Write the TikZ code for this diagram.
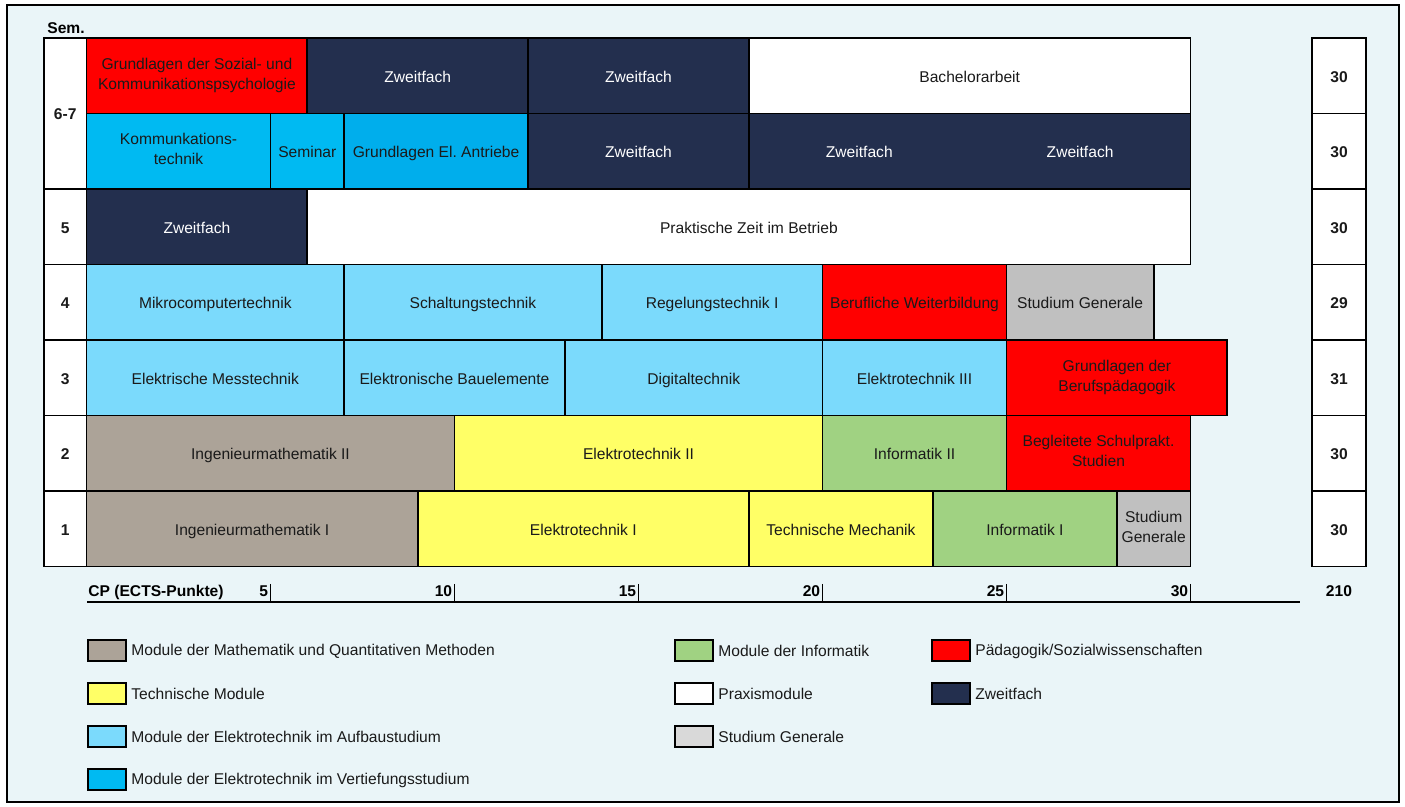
\documentclass[tikz,border=0pt]{standalone}
\usepackage{fontspec}
\setmainfont{Liberation Sans}
\usetikzlibrary{positioning}
\definecolor{bg}{HTML}{EAF5F8}
\definecolor{rot}{HTML}{FF0000}
\definecolor{zweit}{HTML}{232F4E}
\definecolor{vtief}{HTML}{00BAF2}
\definecolor{vtiefb}{HTML}{00AEEC}
\definecolor{aufbau}{HTML}{7BDAFC}
\definecolor{mathe}{HTML}{ACA398}
\definecolor{gelb}{HTML}{FFFF66}
\definecolor{info}{HTML}{A0D282}
\definecolor{stgen}{HTML}{C0C0C0}
\definecolor{stgenlg}{HTML}{D9D9D9}
\definecolor{modtext}{HTML}{1A1A1A}
\newcommand{\celltop}{\rule{0pt}{8.6pt}}
\newcommand{\cellbot}{\rule[-2.2pt]{0pt}{2.2pt}}
\frenchspacing
\begin{document}
\begin{tikzpicture}[x=0.5pt, y=-0.5pt,
font=\fontsize{7.8}{10}\selectfont,
% common options for the module blocks:
cell/.style = {draw, line width=0.9pt, anchor=north west, minimum height=37.75pt,
            inner sep=1pt, outer sep=0pt, align=center, text=modtext,
            execute at begin node=\celltop, execute at end node=\cellbot},
cp/.style = {minimum width=#1*18.4pt},
% semester and points columns:
semcell/.style = {cell, fill=white, minimum width=21.25pt, font=\fontsize{7.8}{10}\selectfont\bfseries},
ptcell/.style = {cell, fill=white, minimum width=27pt, font=\fontsize{7.8}{10}\selectfont\bfseries},
zw/.style = {cell, fill=zweit, text=white},
axlabel/.style = {anchor=base east, inner sep=0, font=\fontsize{7.8}{10}\selectfont\bfseries},
% legend:
swatch/.style = {draw, line width=1pt, minimum width=19pt, minimum height=10.5pt,
            inner sep=0, anchor=west},
legtext/.style = {inner sep=0, text=modtext}]
\useasboundingbox (0,0) rectangle (1405,807);
\draw[fill=bg, line width=0.7pt] (7,5) rectangle (1399,802);
\node[anchor=base west, inner sep=0, font=\fontsize{7.8}{10}\selectfont\bfseries] (sem) at (47,34) {Sem.};
% semester column
\node[semcell, minimum height=75.5pt] (s67) at (44,38) {6-7};
\node[semcell] (s5) at (44,189) {5};
\node[semcell] (s4) at (44,264.5) {4};
\node[semcell] (s3) at (44,340) {3};
\node[semcell] (s2) at (44,415.5) {2};
\node[semcell] (s1) at (44,491) {1};
% semester 6-7
\node[cell, cp=6, fill=rot] (a1) at (86.5,38) {Grundlagen der Sozial- und\\Kommunikationspsychologie};
\node[zw, cp=6] (a2) at (307.3,38) {Zweitfach};
\node[zw, cp=6] (a3) at (528.1,38) {Zweitfach};
\node[cell, cp=12, fill=white] (a4) at (748.9,38) {Bachelorarbeit};
\node[cell, cp=5, fill=vtief] (b1) at (86.5,113.5) {Kommunkations-\\technik};
\node[cell, cp=2, fill=vtief] (b2) at (270.5,113.5) {Seminar};
\node[cell, cp=5, fill=vtiefb] (b3) at (344.1,113.5) {Grundlagen El. Antriebe};
\node[zw, cp=6] (b4) at (528.1,113.5) {Zweitfach};
\node[zw, cp=12] (b5) at (748.9,113.5) {};
\node[text=white] (b5l) at (859.3,152) {Zweitfach};
\node[text=white] (b5r) at (1080.1,152) {Zweitfach};
% semester 5
\node[zw, cp=6] (c1) at (86.5,189) {Zweitfach};
\node[cell, cp=24, fill=white] (c2) at (307.3,189) {Praktische Zeit im Betrieb};
% semester 4
\node[cell, cp=7, fill=aufbau] (d1) at (86.5,264.5) {Mikrocomputertechnik};
\node[cell, cp=7, fill=aufbau] (d2) at (344.1,264.5) {Schaltungstechnik};
\node[cell, cp=6, fill=aufbau] (d3) at (601.7,264.5) {Regelungstechnik I};
\node[cell, cp=5, fill=rot] (d4) at (822.5,264.5) {Berufliche Weiterbildung};
\node[cell, cp=4, fill=stgen] (d5) at (1006.5,264.5) {Studium Generale};
% semester 3
\node[cell, cp=7, fill=aufbau] (e1) at (86.5,340) {Elektrische Messtechnik};
\node[cell, cp=6, fill=aufbau] (e2) at (344.1,340) {Elektronische Bauelemente};
\node[cell, cp=7, fill=aufbau] (e3) at (564.9,340) {Digitaltechnik};
\node[cell, cp=5, fill=aufbau] (e4) at (822.5,340) {Elektrotechnik III};
\node[cell, cp=6, fill=rot] (e5) at (1006.5,340) {Grundlagen der\\Berufspädagogik};
% semester 2
\node[cell, cp=10, fill=mathe] (f1) at (86.5,415.5) {Ingenieurmathematik II};
\node[cell, cp=10, fill=gelb] (f2) at (454.5,415.5) {Elektrotechnik II};
\node[cell, cp=5, fill=info] (f3) at (822.5,415.5) {Informatik II};
\node[cell, cp=5, fill=rot] (f4) at (1006.5,415.5) {Begleitete Schulprakt.\\Studien};
% semester 1
\node[cell, cp=9, fill=mathe] (g1) at (86.5,491) {Ingenieurmathematik I};
\node[cell, cp=9, fill=gelb] (g2) at (417.7,491) {Elektrotechnik I};
\node[cell, cp=5, fill=gelb] (g3) at (748.9,491) {Technische Mechanik};
\node[cell, cp=5, fill=info] (g4) at (932.9,491) {Informatik I};
\node[cell, cp=2, fill=stgen] (g5) at (1116.9,491) {Studium\\Generale};
% points column
\node[ptcell] (p67a) at (1312,38) {30};
\node[ptcell] (p67b) at (1312,113.5) {30};
\node[ptcell] (p5) at (1312,189) {30};
\node[ptcell] (p4) at (1312,264.5) {29};
\node[ptcell] (p3) at (1312,340) {31};
\node[ptcell] (p2) at (1312,415.5) {30};
\node[ptcell] (p1) at (1312,491) {30};
% CP axis
\coordinate (ax0) at (87,602);
\coordinate (ax1) at (1300,602);
\draw[line width=1pt] (ax0) -- (ax1);
\node[axlabel, anchor=base west] (cplabel) at (88,597) {CP (ECTS-Punkte)};
\foreach \n in {5,10,...,30} {
  \draw[line width=0.8pt] ({86.5+36.8*\n},584) -- ({86.5+36.8*\n},601);
  \node[axlabel] (t\n) at ({84.5+36.8*\n},597) {\n};
}
\node[axlabel, anchor=base] (total) at (1339,597) {210};
% legend
\node[swatch, fill=mathe] (lg1) at (87,651) {};
\node[legtext, right=2pt of lg1] (lt1) {Module der Mathematik und Quantitativen Methoden};
\node[swatch, fill=gelb] (lg2) at (87,694) {};
\node[legtext, right=2pt of lg2] (lt2) {Technische Module};
\node[swatch, fill=aufbau] (lg3) at (87,737) {};
\node[legtext, right=2pt of lg3] (lt3) {Module der Elektrotechnik im Aufbaustudium};
\node[swatch, fill=vtief] (lg4) at (87,780) {};
\node[legtext, right=2pt of lg4] (lt4) {Module der Elektrotechnik im Vertiefungsstudium};
\node[swatch, fill=info] (lg5) at (674,651) {};
\node[legtext, right=2pt of lg5] (lt5) {Module der Informatik};
\node[swatch, fill=white] (lg6) at (674,694) {};
\node[legtext, right=2pt of lg6] (lt6) {Praxismodule};
\node[swatch, fill=stgenlg] (lg7) at (674,737) {};
\node[legtext, right=2pt of lg7] (lt7) {Studium Generale};
\node[swatch, fill=rot] (lg8) at (931,651) {};
\node[legtext, right=2pt of lg8] (lt8) {Pädagogik/Sozialwissenschaften};
\node[swatch, fill=zweit] (lg9) at (931,694) {};
\node[legtext, right=2pt of lg9] (lt9) {Zweitfach};
\end{tikzpicture}
\end{document}
